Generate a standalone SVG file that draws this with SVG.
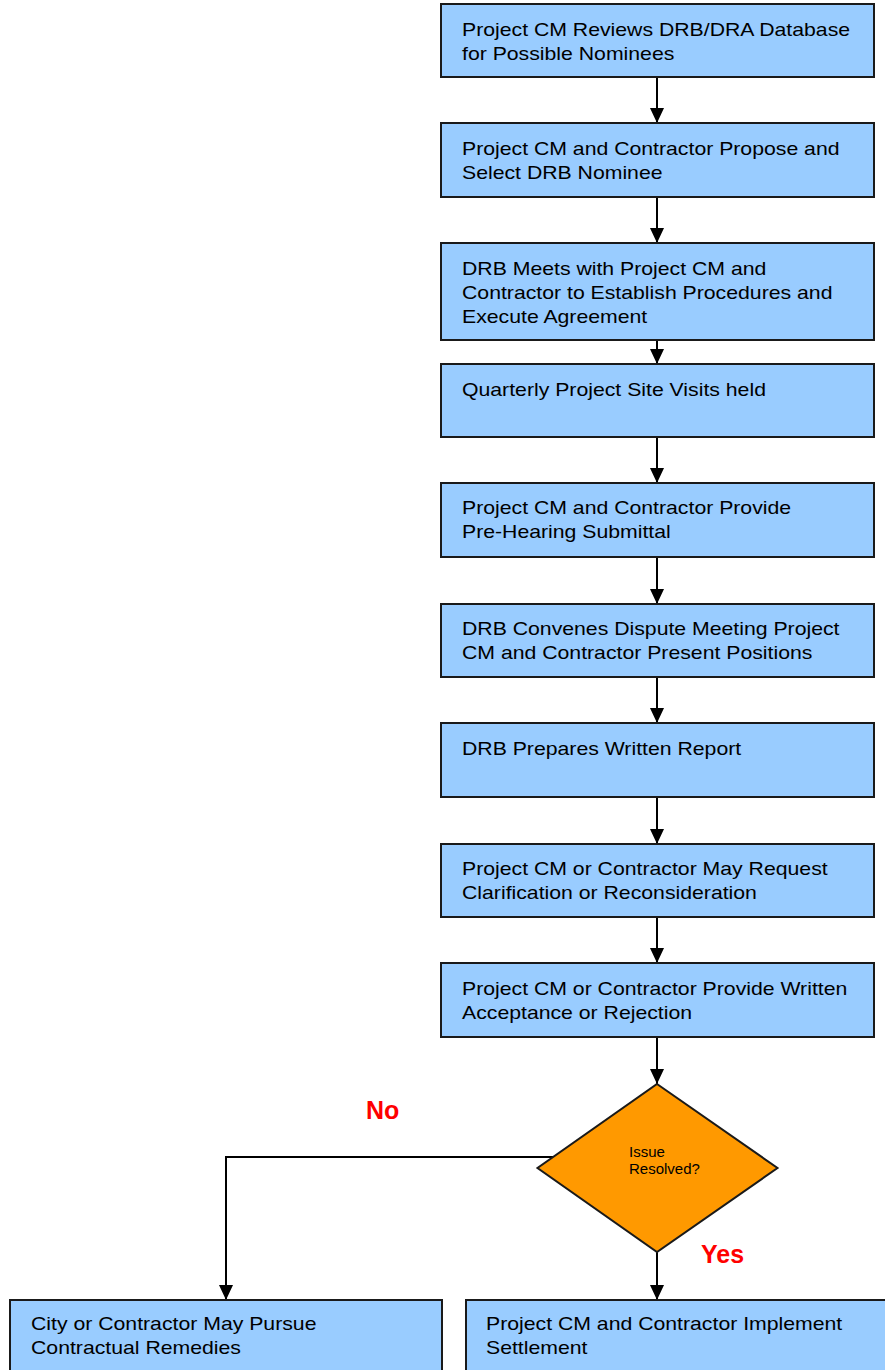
<svg xmlns="http://www.w3.org/2000/svg" width="885" height="1370" viewBox="0 0 885 1370">
<style>
.box{fill:#99CCFF;stroke:#1a1a1a;stroke-width:2}
.dia{fill:#FF9900;stroke:#1a1a1a;stroke-width:2}
.t{font-family:"Liberation Sans",Arial,sans-serif;font-size:18px;fill:#000}
.d{font-family:"Liberation Sans",Arial,sans-serif;font-size:15px;fill:#000}
.lbl{font-family:"Liberation Sans",Arial,sans-serif;font-size:25px;font-weight:bold;fill:#FF0000}
.c{fill:none;stroke:#000;stroke-width:2}
</style>
<defs>
<marker id="ah" markerUnits="userSpaceOnUse" markerWidth="16" markerHeight="16" viewBox="0 0 16 16" refX="15" refY="8" orient="auto">
<path d="M0,1 L15,8 L0,15 Z" fill="#000"/>
</marker>
</defs>
<g id="connectors">
<line class="c" x1="657" y1="77" x2="657" y2="123" marker-end="url(#ah)"/>
<line class="c" x1="657" y1="197" x2="657" y2="243" marker-end="url(#ah)"/>
<line class="c" x1="657" y1="340" x2="657" y2="364" marker-end="url(#ah)"/>
<line class="c" x1="657" y1="437" x2="657" y2="483" marker-end="url(#ah)"/>
<line class="c" x1="657" y1="557" x2="657" y2="604" marker-end="url(#ah)"/>
<line class="c" x1="657" y1="677" x2="657" y2="723" marker-end="url(#ah)"/>
<line class="c" x1="657" y1="797" x2="657" y2="844" marker-end="url(#ah)"/>
<line class="c" x1="657" y1="917" x2="657" y2="963" marker-end="url(#ah)"/>
<line class="c" x1="657" y1="1037" x2="657" y2="1084" marker-end="url(#ah)"/>
<line class="c" x1="657" y1="1252" x2="657" y2="1300" marker-end="url(#ah)"/>
<polyline class="c" points="563,1157 226,1157 226,1300" marker-end="url(#ah)"/>
</g>
<g id="n1">
<rect class="box" x="441" y="4" width="433" height="73"/>
<g transform="translate(462 0) scale(1.18 1)"><text class="t" x="0" y="36">Project CM Reviews DRB/DRA Database</text><text class="t" x="0" y="60">for Possible Nominees</text></g>
</g>
<g id="n2">
<rect class="box" x="441" y="123" width="433" height="74"/>
<g transform="translate(462 0) scale(1.18 1)"><text class="t" x="0" y="155">Project CM and Contractor Propose and</text><text class="t" x="0" y="179">Select DRB Nominee</text></g>
</g>
<g id="n3">
<rect class="box" x="441" y="243" width="433" height="97"/>
<g transform="translate(462 0) scale(1.18 1)"><text class="t" x="0" y="275">DRB Meets with Project CM and</text><text class="t" x="0" y="299">Contractor to Establish Procedures and</text><text class="t" x="0" y="323">Execute Agreement</text></g>
</g>
<g id="n4">
<rect class="box" x="441" y="364" width="433" height="73"/>
<g transform="translate(462 0) scale(1.18 1)"><text class="t" x="0" y="396">Quarterly Project Site Visits held</text></g>
</g>
<g id="n5">
<rect class="box" x="441" y="483" width="433" height="74"/>
<g transform="translate(462 0) scale(1.18 1)"><text class="t" x="0" y="514">Project CM and Contractor Provide</text><text class="t" x="0" y="538">Pre-Hearing Submittal</text></g>
</g>
<g id="n6">
<rect class="box" x="441" y="604" width="433" height="73"/>
<g transform="translate(462 0) scale(1.18 1)"><text class="t" x="0" y="635">DRB Convenes Dispute Meeting Project</text><text class="t" x="0" y="659">CM and Contractor Present Positions</text></g>
</g>
<g id="n7">
<rect class="box" x="441" y="723" width="433" height="74"/>
<g transform="translate(462 0) scale(1.18 1)"><text class="t" x="0" y="755">DRB Prepares Written Report</text></g>
</g>
<g id="n8">
<rect class="box" x="441" y="844" width="433" height="73"/>
<g transform="translate(462 0) scale(1.18 1)"><text class="t" x="0" y="875">Project CM or Contractor May Request</text><text class="t" x="0" y="899">Clarification or Reconsideration</text></g>
</g>
<g id="n9">
<rect class="box" x="441" y="963" width="433" height="74"/>
<g transform="translate(462 0) scale(1.18 1)"><text class="t" x="0" y="995">Project CM or Contractor Provide Written</text><text class="t" x="0" y="1019">Acceptance or Rejection</text></g>
</g>
<g id="decision">
<polygon class="dia" points="657,1084 777.5,1168 657,1252 537.5,1168"/>
<text class="d" x="629" y="1157">Issue</text>
<text class="d" x="629" y="1174">Resolved?</text>
</g>
<g id="labels">
<text class="lbl" x="366" y="1119">No</text>
<text class="lbl" x="701" y="1263">Yes</text>
</g>
<g id="n10">
<rect class="box" x="10" y="1300" width="432" height="80"/>
<g transform="translate(31 0) scale(1.18 1)"><text class="t" x="0" y="1330">City or Contractor May Pursue</text><text class="t" x="0" y="1354">Contractual Remedies</text></g>
</g>
<g id="n11">
<rect class="box" x="466" y="1300" width="440" height="80"/>
<g transform="translate(486 0) scale(1.18 1)"><text class="t" x="0" y="1330">Project CM and Contractor Implement</text><text class="t" x="0" y="1354">Settlement</text></g>
</g>
</svg>
